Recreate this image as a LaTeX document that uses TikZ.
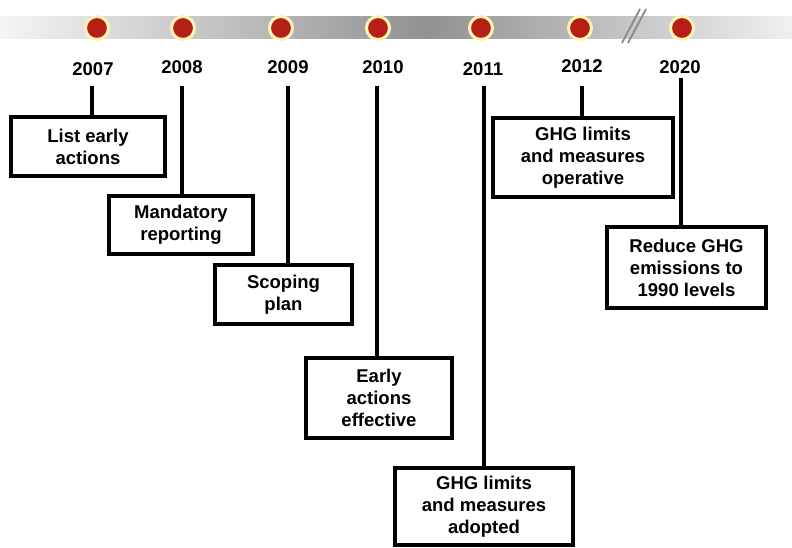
\documentclass[tikz,border=0pt]{standalone}
\usepackage{fontspec}
\setmainfont{Liberation Sans}
\definecolor{dotred}{HTML}{B52015}
\definecolor{dotring}{HTML}{FFF3B8}
\definecolor{breakgray}{HTML}{8A8A8A}
\pgfdeclarehorizontalshading{barshade}{100bp}{color(0bp)=(white); color(25bp)=(white!96!black); color(52bp)=(black!43); color(75bp)=(white!94!black); color(100bp)=(white)}

\begin{document}
\begin{tikzpicture}[x=1pt,y=-1pt]
            \tikzstyle{every node}=[font=\bfseries\fontsize{18.5}{22}\selectfont, text=black]
            \tikzstyle{dot}=[circle, fill=dotred, draw=dotring, line width=3pt, minimum size=23pt, inner sep=0pt]
            \tikzstyle{event}=[rectangle, draw=black, line width=3.3pt, align=center, inner sep=0pt]
            \tikzstyle{stem}=[black, line width=3.4pt]

            \useasboundingbox (0,0) rectangle (792,548);
            \shade[shading=barshade] (0,17) rectangle (792,39);

            % break in the axis
            \draw[breakgray, line width=1.8pt] (622,43) -- (640,9);
            \draw[breakgray, line width=1.8pt] (628,43) -- (646,9);

            \foreach \yr/\x in {2007/97, 2008/183, 2009/281, 2010/378, 2011/481, 2012/580, 2020/682}
                \node[dot] (d\yr) at (\x,28) {};

            \foreach \yr/\x/\y in {2007/93/69, 2008/182/67, 2009/288/67, 2010/383/67, 2011/483/69, 2012/582/66, 2020/680/67}
                \node (y\yr) at (\x,\y) {\yr};

            \coordinate (s2007) at (92,86);
            \coordinate (s2008) at (182,86);
            \coordinate (s2009) at (288,86);
            \coordinate (s2010) at (377,86);
            \coordinate (s2011) at (484,86);
            \coordinate (s2012) at (582,86);
            \coordinate (s2020) at (681,78);

            \node[event, minimum width=154pt, minimum height=59pt] (early) at (88,146.5) {List early\\actions};
            \node[event, minimum width=144pt, minimum height=58pt] (mandatory) at (181,225) {Mandatory\\reporting};
            \node[event, minimum width=137pt, minimum height=59pt] (scoping) at (283.5,294.5) {Scoping\\plan};
            \node[event, minimum width=146pt, minimum height=80pt] (effective) at (379,398) {Early\\actions\\effective};
            \node[event, minimum width=178pt, minimum height=77pt] (adopted) at (484,506.5) {GHG limits\\and measures\\adopted};
            \node[event, minimum width=180pt, minimum height=79pt] (operative) at (583,157.5) {GHG limits\\and measures\\operative};
            \node[event, minimum width=159pt, minimum height=81pt] (reduce) at (686.5,267.5) {Reduce GHG\\emissions to\\1990 levels};

            \draw[stem] (s2007) -- (s2007 |- early.north);
            \draw[stem] (s2008) -- (s2008 |- mandatory.north);
            \draw[stem] (s2009) -- (s2009 |- scoping.north);
            \draw[stem] (s2010) -- (s2010 |- effective.north);
            \draw[stem, line width=4.6pt] (s2011) -- (s2011 |- adopted.north);
            \draw[stem] (s2012) -- (s2012 |- operative.north);
            \draw[stem] (s2020) -- (s2020 |- reduce.north);
        \end{tikzpicture}
\end{document}
